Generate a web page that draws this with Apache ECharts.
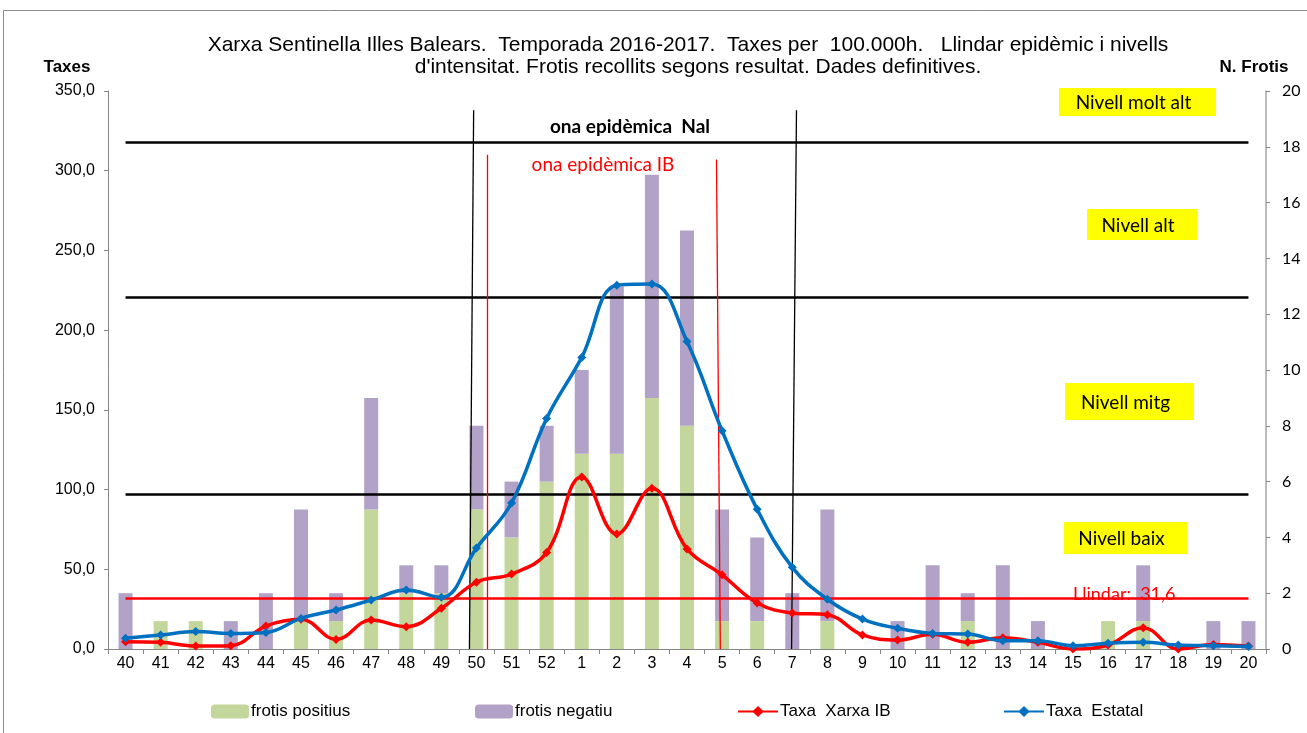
<!DOCTYPE html>
<html>
<head>
<meta charset="utf-8">
<script src="https://cdn.jsdelivr.net/npm/echarts@6/dist/echarts.min.js"></script>
<style>
html,body{margin:0;padding:0;background:#fff;}
#chart{width:1307px;height:733px;}
</style>
</head>
<body>
<div id="chart"></div>
<script>
// setmanes epidemiologiques 2016-2017
var setmanes = ['40','41','42','43','44','45','46','47','48','49','50','51','52',
	'1','2','3','4','5','6','7','8','9','10','11','12','13','14','15','16','17','18','19','20'];
// N. frotis
var frotisPositius = [0,1,1,0,0,1,1,5,2,2,5,4,6,7,7,9,8,1,1,0,1,0,0,0,1,0,0,0,1,1,0,0,0];
var frotisNegatius = [2,0,0,1,2,4,1,4,1,1,3,2,2,3,6,8,7,4,3,2,4,0,1,3,1,3,1,0,0,2,0,1,1];
// taxes per 100.000h
var taxaIB = [4.6,4.2,1.9,2.1,14.4,18.6,6.0,18.2,14.0,25.5,41.9,47.0,60.5,107.9,72.1,100.9,62.8,
	46.5,28.9,22.6,21.5,8.8,5.6,9.2,4.2,7.1,4.2,0.0,2.5,13.4,0.0,2.9,1.9];
var taxaEstatal = [6.7,8.8,10.9,9.8,10.4,19.2,24.5,30.7,37.0,32.4,63.3,91.6,144.6,182.9,228.2,228.9,
	192.9,136.9,87.6,51.2,31.2,18.8,13.0,9.8,9.4,5.2,5.2,2.1,3.6,4.2,2.5,2.1,1.5];
// llindar i nivells d'intensitat
var llindar = 31.6;
var nivells = [97.2, 220.8, 318.0];
var nivellNoms = ['Nivell molt alt', 'Nivell alt', 'Nivell mitg', 'Nivell baix'];

var titol1 = 'Xarxa Sentinella Illes Balears.  Temporada 2016-2017.  Taxes per  100.000h.   Llindar epidèmic i nivells';
var titol2 = 'd\'intensitat. Frotis recollits segons resultat. Dades definitives.';

var calibri = 'Lato, "Noto Sans", sans-serif';
var arial = '"Liberation Sans", Arial, sans-serif';

var myChart = echarts.init(document.getElementById('chart'));

var lineasNivell = [];
nivells.forEach(function(v){
	lineasNivell.push([{coord:[0, v], lineStyle:{color:'#000', width:2.5, type:'solid'}}, {coord:[32, v]}]);
});

function caixa(txt, x1, y1, x2, y2){
	return {
		type:'group', silent:true, z:50,
		children:[
			{type:'rect', shape:{x:x1, y:y1, width:x2-x1, height:y2-y1}, style:{fill:'#ffff00'}},
			{type:'text', x:(x1+x2)/2 - 4, y:(y1+y2)/2 + 1, style:{text:txt, fill:'#000', font:'19px ' + calibri, align:'center', verticalAlign:'middle'}}
		]
	};
}

var legTxt = {fontFamily:arial, fontSize:17, color:'#000', padding:[0,0,0,-3]};

var option = {
	animation:false,
	backgroundColor:'#fff',
	grid:{left:108, right:41, top:91, bottom:84},
	legend:[
		{data:['frotis positius'], left:211, top:703, padding:0, itemWidth:38, itemHeight:14, textStyle:legTxt},
		{data:['frotis negatiu'], left:475, top:703, padding:0, itemWidth:38, itemHeight:14, textStyle:legTxt},
		{data:['Taxa  Xarxa IB'], left:737, top:703, padding:0, itemWidth:40, itemHeight:14, textStyle:legTxt},
		{data:['Taxa  Estatal'], left:1003, top:703, padding:0, itemWidth:40, itemHeight:14, textStyle:legTxt}
	],
	xAxis:[
		{type:'category', data:setmanes, boundaryGap:true,
			axisLine:{onZero:false, lineStyle:{color:'#868686', width:1}},
			axisTick:{show:true, length:5, interval:0, lineStyle:{color:'#868686'}},
			axisLabel:{interval:0, color:'#000', fontFamily:arial, fontSize:16, margin:7},
			splitLine:{show:false}},
		{type:'value', min:-0.5, max:32.5, show:false}
	],
	yAxis:[
		{type:'value', min:0, max:350, interval:50, position:'left',
			axisLine:{show:true, onZero:false, lineStyle:{color:'#868686'}},
			axisTick:{show:true, length:4, lineStyle:{color:'#868686'}},
			axisLabel:{color:'#000', fontFamily:arial, fontSize:16, margin:13,
				formatter:function(v){ return v.toFixed(1).replace('.', ','); }},
			splitLine:{show:false}},
		{type:'value', min:0, max:20, interval:2, position:'right',
			axisLine:{show:true, onZero:false, lineStyle:{color:'#a6a6a6', width:1.5}},
			axisTick:{show:true, length:4, lineStyle:{color:'#868686'}},
			axisLabel:{color:'#000', fontFamily:calibri, fontSize:16, margin:16},
			splitLine:{show:false}}
	],
	series:[
		{name:'frotis positius', type:'bar', stack:'frotis', yAxisIndex:1, barWidth:14,
			itemStyle:{color:'#c3d69b'}, data:frotisPositius, z:2},
		{name:'frotis negatiu', type:'bar', stack:'frotis', yAxisIndex:1, barWidth:14,
			itemStyle:{color:'#b3a2c7'}, data:frotisNegatius, z:2},
		{name:'guies', type:'scatter', xAxisIndex:1, yAxisIndex:0, data:[], z:3,
			markLine:{silent:true, symbol:['none','none'], label:{show:false}, animation:false,
				data:lineasNivell.concat([
					[{coord:[0, llindar], lineStyle:{color:'#ff0000', width:2.5, type:'solid'}}, {coord:[32, llindar]}],
					[{coord:[9.80, 0], lineStyle:{color:'#000', width:1.3, type:'solid'}}, {coord:[9.92, 338]}],
					[{coord:[18.98, 0], lineStyle:{color:'#000', width:1.3, type:'solid'}}, {coord:[19.12, 338]}],
					[{coord:[10.32, 0], lineStyle:{color:'#ff0000', width:1.3, type:'solid'}}, {coord:[10.32, 310]}],
					[{coord:[16.95, 0], lineStyle:{color:'#ff0000', width:1.3, type:'solid'}}, {coord:[16.84, 307]}]
				])}},
		{name:'Taxa  Xarxa IB', type:'line', yAxisIndex:0, data:taxaIB, smooth:0.4, z:5,
			symbol:'diamond', symbolSize:9, lineStyle:{color:'#ff0000', width:3.5},
			itemStyle:{color:'#ff0000'}},
		{name:'Taxa  Estatal', type:'line', yAxisIndex:0, data:taxaEstatal, smooth:0.4, z:6,
			symbol:'diamond', symbolSize:9, lineStyle:{color:'#0070c0', width:3.5},
			itemStyle:{color:'#0070c0'}}
	],
	graphic:[
		{type:'rect', silent:true, z:-1, shape:{x:3.5, y:10.5, width:1400, height:800},
			style:{fill:null, stroke:'#8c8c8c', lineWidth:1}},
		{type:'text', x:688, y:45, z:50, style:{text:titol1, font:'21px ' + arial, fill:'#000', align:'center', verticalAlign:'middle'}},
		{type:'text', x:698, y:67, z:50, style:{text:titol2, font:'21px ' + arial, fill:'#000', align:'center', verticalAlign:'middle'}},
		{type:'text', x:67, y:67, z:50, style:{text:'Taxes', font:'bold 17px ' + arial, fill:'#000', align:'center', verticalAlign:'middle'}},
		{type:'text', x:1254, y:67, z:50, style:{text:'N. Frotis', font:'bold 17px ' + arial, fill:'#000', align:'center', verticalAlign:'middle'}},
		{type:'text', x:630, y:127, z:50, style:{text:'ona epidèmica  Nal', font:'bold 19px ' + calibri, fill:'#000', align:'center', verticalAlign:'middle'}},
		{type:'text', x:603, y:165, z:50, style:{text:'ona epidèmica IB', font:'19px ' + calibri, fill:'#ff0000', align:'center', verticalAlign:'middle'}},
		{type:'text', x:1073, y:594, z:50, style:{text:'Llindar:  31,6', font:'18px ' + calibri, fill:'#ff0000', align:'left', verticalAlign:'middle'}},
		caixa(nivellNoms[0], 1059, 88, 1216, 116),
		caixa(nivellNoms[1], 1087, 209, 1197, 240),
		caixa(nivellNoms[2], 1065, 383, 1194, 420),
		caixa(nivellNoms[3], 1064, 522, 1187, 554)
	]
};
myChart.setOption(option);
</script>
</body>
</html>
